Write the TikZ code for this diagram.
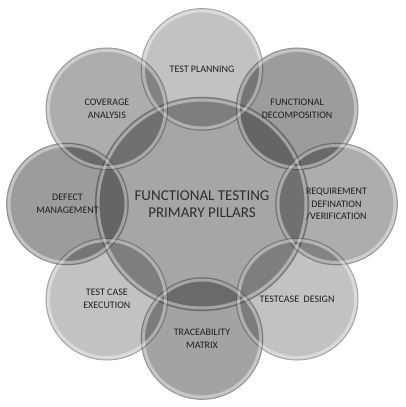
\documentclass[tikz,border=0pt]{standalone}
\usepackage{fontspec}
\setmainfont{Carlito}
\usetikzlibrary{calc}
\begin{document}
\begin{tikzpicture}[x=1pt,y=1pt,
  disc/.style={circle, minimum size=122pt, inner sep=0pt, fill=#1},
  hub/.style={circle, minimum size=214pt, inner sep=0pt, fill=#1},
  rimlight/.style={draw=white, line width=3pt, opacity=0.4},
  rimdark/.style={draw=black!55, line width=0.7pt, opacity=0.6},
  lbl/.style={font=\fontsize{10}{12.7}\selectfont, align=center, text=black!88},
  hublbl/.style={font=\fontsize{15}{16.5}\selectfont, align=center, text=black!82}]
\useasboundingbox (0,0) rectangle (405,407);
\coordinate (O) at (202,203);
\begin{scope}[blend mode=multiply]
  \node[hub=black!35] (hub) at (O) {};
  \node[disc=black!24] (plan) at ($(O)+(90:134.5)$) {};
  \node[disc=black!39] (decomp) at ($(O)+(45:134.5)$) {};
  \node[disc=black!32] (req) at ($(O)+(0:134.5)$) {};
  \node[disc=black!24] (design) at ($(O)+(-45:134.5)$) {};
  \node[disc=black!36] (trace) at ($(O)+(-90:134.5)$) {};
  \node[disc=black!24] (exec) at ($(O)+(-135:134.5)$) {};
  \node[disc=black!39] (defect) at ($(O)+(180:134.5)$) {};
  \node[disc=black!32] (cover) at ($(O)+(135:134.5)$) {};
\end{scope}
\draw[rimlight] (hub.center) circle[radius=104];
\draw[rimdark] (hub.center) circle[radius=107];
\foreach \n in {plan,decomp,req,design,trace,exec,defect,cover}{
  \draw[rimlight] (\n.center) circle[radius=58.5];
  \draw[rimdark] (\n.center) circle[radius=61];
}
\node[hublbl] at (hub.center) {FUNCTIONAL TESTING\\PRIMARY PILLARS};
\node[lbl] at (plan.center) {TEST PLANNING};
\node[lbl] at (decomp.center) {FUNCTIONAL\\DECOMPOSITION};
\node[lbl] at (req.center) {REQUIREMENT\\DEFINATION\\/VERIFICATION};
\node[lbl] at (design.center) {TESTCASE\ \ DESIGN};
\node[lbl] at (trace.center) {TRACEABILITY\\MATRIX};
\node[lbl] at (exec.center) {TEST CASE\\EXECUTION};
\node[lbl] at (defect.center) {DEFECT\\MANAGEMENT};
\node[lbl] at (cover.center) {COVERAGE\\ANALYSIS};
\end{tikzpicture}
\end{document}
